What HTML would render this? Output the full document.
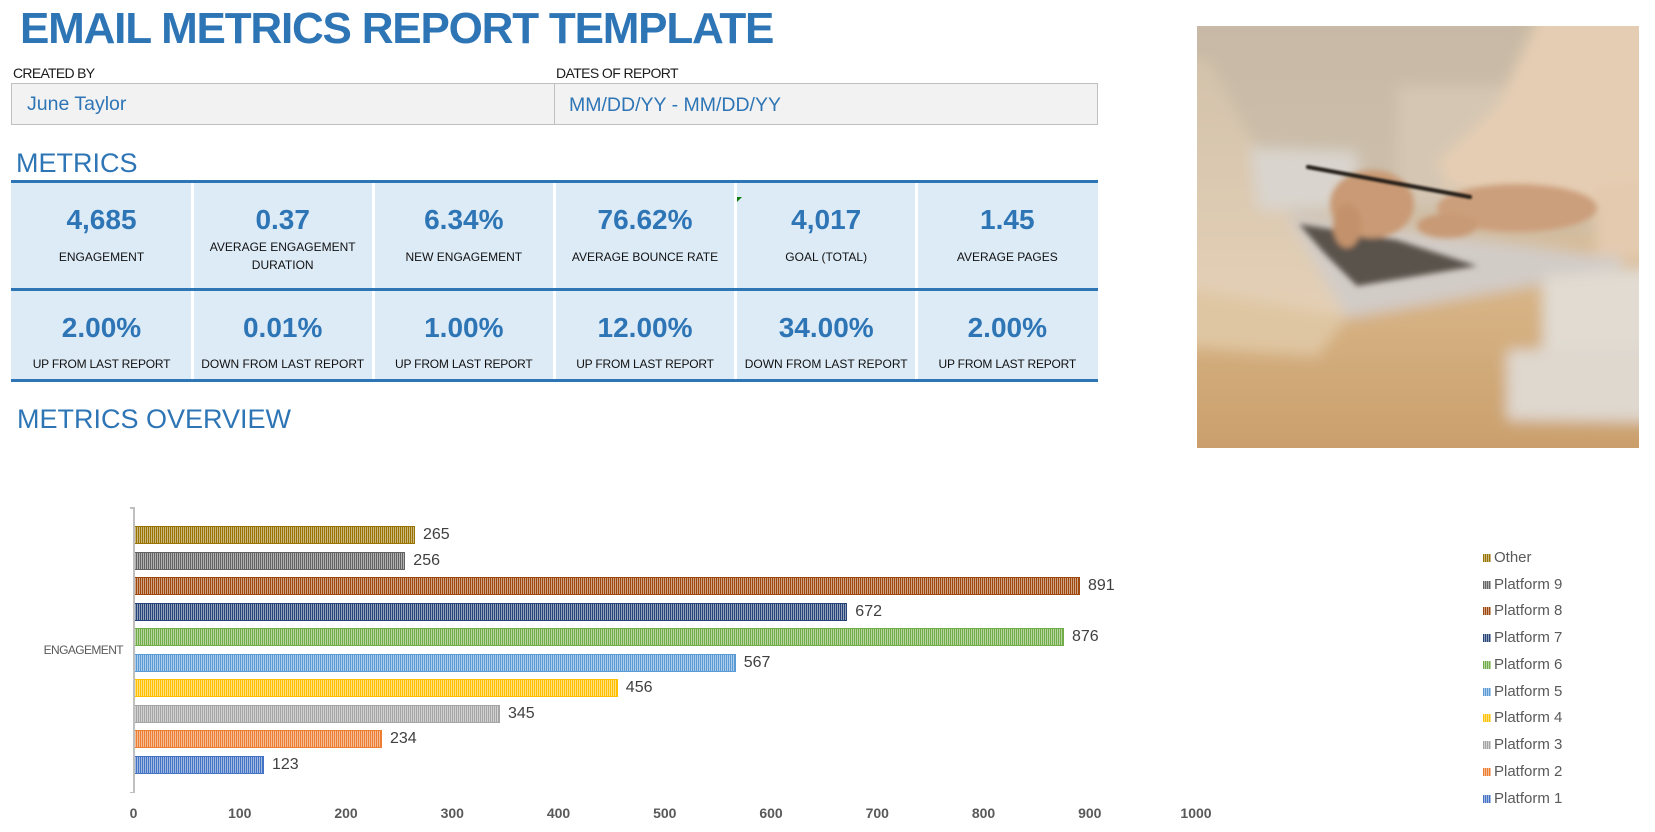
<!DOCTYPE html>
<html>
<head>
<meta charset="utf-8">
<style>
  html,body{margin:0;padding:0;background:#fff;}
  body{width:1655px;height:832px;position:relative;overflow:hidden;font-family:"Liberation Sans",Arial,sans-serif;}
  .a{position:absolute;white-space:nowrap;}
  .val{position:absolute;width:181px;text-align:center;font-weight:bold;font-size:28px;line-height:32px;color:#2E75B6;white-space:nowrap;}
  .lab{position:absolute;width:181px;text-align:center;font-size:12px;line-height:16px;color:#111;white-space:nowrap;}
  .bar{position:absolute;height:18px;box-sizing:border-box;}
  .vl{position:absolute;font-size:16px;line-height:18px;color:#404040;white-space:nowrap;}
  .tk{position:absolute;width:60px;text-align:center;font-weight:bold;font-size:14px;line-height:16px;color:#595959;}
  .lg{position:absolute;left:1494px;font-size:15px;line-height:18px;color:#595959;white-space:nowrap;}
  .mk{position:absolute;left:1483px;width:8px;height:8px;}
</style>
</head>
<body>

<!-- Title -->
<div class="a" style="left:20px;top:7px;font-weight:bold;font-size:44px;line-height:44px;color:#2E75B6;letter-spacing:-1.2px;">EMAIL METRICS REPORT TEMPLATE</div>

<div class="a" style="left:13px;top:65px;font-size:14px;line-height:16px;color:#1a1a1a;letter-spacing:-0.7px;">CREATED BY</div>
<div class="a" style="left:556px;top:65px;font-size:14px;line-height:16px;color:#1a1a1a;letter-spacing:-0.6px;">DATES OF REPORT</div>

<div class="a" style="left:11px;top:83px;width:1085px;height:40px;border:1px solid #BFBFBF;background:#F2F2F2;"></div>
<div class="a" style="left:554px;top:83px;width:1px;height:42px;background:#BFBFBF;"></div>
<div class="a" style="left:27px;top:92px;font-size:19.5px;line-height:24px;color:#2E75B6;">June Taylor</div>
<div class="a" style="left:569px;top:92.5px;font-size:19.5px;line-height:24px;color:#2E75B6;">MM/DD/YY - MM/DD/YY</div>

<div class="a" style="left:16px;top:147.5px;font-size:27px;line-height:30px;color:#2E75B6;">METRICS</div>

<!-- Metrics table -->
<div class="a" style="left:11px;top:183px;width:1087px;height:105px;background:#DDEBF7;"></div>
<div class="a" style="left:11px;top:291px;width:1087px;height:88px;background:#DDEBF7;"></div>
<div class="a" style="left:190.7px;top:183px;width:3px;height:105px;background:#fff;"></div>
<div class="a" style="left:371.8px;top:183px;width:3px;height:105px;background:#fff;"></div>
<div class="a" style="left:553px;top:183px;width:3px;height:105px;background:#fff;"></div>
<div class="a" style="left:734.2px;top:183px;width:3px;height:105px;background:#fff;"></div>
<div class="a" style="left:915.3px;top:183px;width:3px;height:105px;background:#fff;"></div>
<div class="a" style="left:190.7px;top:291px;width:3px;height:88px;background:#fff;"></div>
<div class="a" style="left:371.8px;top:291px;width:3px;height:88px;background:#fff;"></div>
<div class="a" style="left:553px;top:291px;width:3px;height:88px;background:#fff;"></div>
<div class="a" style="left:734.2px;top:291px;width:3px;height:88px;background:#fff;"></div>
<div class="a" style="left:915.3px;top:291px;width:3px;height:88px;background:#fff;"></div>
<div class="a" style="left:11px;top:180px;width:1087px;height:3px;background:#2E75B6;"></div>
<div class="a" style="left:11px;top:288px;width:1087px;height:3px;background:#2E75B6;"></div>
<div class="a" style="left:11px;top:379px;width:1087px;height:3px;background:#2E75B6;"></div>
<svg class="a" style="left:737px;top:197px;" width="6" height="6"><polygon points="0,0 5,0 0,5" fill="#107C10"/></svg>

<!-- row 1 -->
<div class="val" style="left:11px;top:204px;">4,685</div>
<div class="val" style="left:192.2px;top:204px;">0.37</div>
<div class="val" style="left:373.3px;top:204px;">6.34%</div>
<div class="val" style="left:554.5px;top:204px;">76.62%</div>
<div class="val" style="left:735.7px;top:204px;">4,017</div>
<div class="val" style="left:916.8px;top:204px;">1.45</div>

<div class="lab" style="left:11px;top:248.7px;">ENGAGEMENT</div>
<div class="lab" style="left:192.2px;top:239px;line-height:17.7px;">AVERAGE ENGAGEMENT<br>DURATION</div>
<div class="lab" style="left:373.3px;top:248.7px;">NEW ENGAGEMENT</div>
<div class="lab" style="left:554.5px;top:248.7px;">AVERAGE BOUNCE RATE</div>
<div class="lab" style="left:735.7px;top:248.7px;">GOAL (TOTAL)</div>
<div class="lab" style="left:916.8px;top:248.7px;">AVERAGE PAGES</div>

<!-- row 2 -->
<div class="val" style="left:11px;top:311.5px;">2.00%</div>
<div class="val" style="left:192.2px;top:311.5px;">0.01%</div>
<div class="val" style="left:373.3px;top:311.5px;">1.00%</div>
<div class="val" style="left:554.5px;top:311.5px;">12.00%</div>
<div class="val" style="left:735.7px;top:311.5px;">34.00%</div>
<div class="val" style="left:916.8px;top:311.5px;">2.00%</div>

<div class="lab" style="left:11px;top:356.3px;letter-spacing:-0.2px;">UP FROM LAST REPORT</div>
<div class="lab" style="left:192.2px;top:356.3px;">DOWN FROM LAST REPORT</div>
<div class="lab" style="left:373.3px;top:356.3px;letter-spacing:-0.2px;">UP FROM LAST REPORT</div>
<div class="lab" style="left:554.5px;top:356.3px;letter-spacing:-0.2px;">UP FROM LAST REPORT</div>
<div class="lab" style="left:735.7px;top:356.3px;">DOWN FROM LAST REPORT</div>
<div class="lab" style="left:916.8px;top:356.3px;letter-spacing:-0.2px;">UP FROM LAST REPORT</div>

<div class="a" style="left:17px;top:404.3px;font-size:27px;line-height:30px;color:#2E75B6;">METRICS OVERVIEW</div>

<!-- Photo -->
<svg class="a" style="left:1197px;top:26px;" width="442" height="422" viewBox="0 0 442 422">
  <defs>
    <linearGradient id="bg" x1="0" y1="0" x2="0" y2="1">
      <stop offset="0" stop-color="#c7b9a5"/>
      <stop offset="0.4" stop-color="#ccbeaa"/>
      <stop offset="0.58" stop-color="#d7bb96"/>
      <stop offset="1" stop-color="#cda26f"/>
    </linearGradient>
    <linearGradient id="tb" x1="0" y1="0" x2="0" y2="1">
      <stop offset="0" stop-color="#dbba8e"/>
      <stop offset="1" stop-color="#c99d69"/>
    </linearGradient>
    <linearGradient id="lid" x1="0" y1="0" x2="0" y2="1">
      <stop offset="0" stop-color="#d3c2ab"/>
      <stop offset="1" stop-color="#e4d0b6"/>
    </linearGradient>
    <filter id="bl" x="-20%" y="-20%" width="140%" height="140%"><feGaussianBlur stdDeviation="7"/></filter>
    <filter id="bl2" x="-20%" y="-20%" width="140%" height="140%"><feGaussianBlur stdDeviation="3"/></filter>
    <filter id="bl3" x="-20%" y="-20%" width="140%" height="140%"><feGaussianBlur stdDeviation="1"/></filter>
    <clipPath id="cp"><rect width="442" height="422"/></clipPath>
  </defs>
  <g clip-path="url(#cp)">
    <rect width="442" height="422" fill="url(#bg)"/>
    <g filter="url(#bl)">
      <rect x="200" y="60" width="242" height="120" fill="#d4c6b3"/>
      <polygon points="-20,228 442,218 462,440 -20,440" fill="url(#tb)"/>
      <polygon points="-20,235 150,292 120,330 -20,320" fill="#dfc6a2"/>
      <polygon points="346,-20 462,-20 462,175 400,182 330,174 250,160 240,135 300,80" fill="#e5cdb3"/>
      <polygon points="395,160 462,150 462,232 400,236" fill="#e4caaf"/>
      <polygon points="-20,30 12,34 80,160 150,290 -20,262" fill="url(#lid)"/>
      <polygon points="53,121 160,125 165,184 60,184" fill="#d9d4cd"/>
      <polygon points="90,188 426,232 426,244 150,292" fill="#d2ccc7"/>
      <polygon points="346,251 462,240 462,330 346,330" fill="#e1dbd2"/>
      <polygon points="310,324 462,320 462,396 310,394" fill="#dfd8cf"/>
    </g>
    <g filter="url(#bl2)">
      <polygon points="102,198 200,214 280,240 160,260 128,228" fill="#5a524b"/>
      <ellipse cx="175" cy="178" rx="42" ry="34" fill="#c99a75"/>
      <ellipse cx="150" cy="200" rx="14" ry="22" fill="#c3926c"/>
      <ellipse cx="320" cy="182" rx="80" ry="24" fill="#cc9f7c"/>
      <ellipse cx="250" cy="200" rx="30" ry="12" fill="#c89a76"/>
    </g>
    <g filter="url(#bl3)">
      <line x1="111" y1="141" x2="273" y2="171" stroke="#211c19" stroke-width="4" stroke-linecap="round"/>
    </g>
  </g>
</svg>

<!-- Chart -->
<div class="a" style="left:0px;top:642px;width:123px;text-align:right;font-size:12px;line-height:16px;color:#595959;letter-spacing:-0.6px;">ENGAGEMENT</div>

<div class="bar" style="left:133.3px;top:526px;width:281.6px;border:1px solid #997300;background:repeating-linear-gradient(90deg,#997300 0 1px,#ccb980 1px 2px);"></div>
<div class="bar" style="left:133.3px;top:551.5px;width:272px;border:1px solid #636363;background:repeating-linear-gradient(90deg,#636363 0 1px,#b1b1b1 1px 2px);"></div>
<div class="bar" style="left:133.3px;top:577px;width:946.7px;border:1px solid #9E480E;background:repeating-linear-gradient(90deg,#9E480E 0 1px,#cfa487 1px 2px);"></div>
<div class="bar" style="left:133.3px;top:602.5px;width:714px;border:1px solid #264478;background:repeating-linear-gradient(90deg,#264478 0 1px,#93a2bc 1px 2px);"></div>
<div class="bar" style="left:133.3px;top:628px;width:930.8px;border:1px solid #70AD47;background:repeating-linear-gradient(90deg,#70AD47 0 1px,#b8d6a3 1px 2px);"></div>
<div class="bar" style="left:133.3px;top:653.5px;width:602.4px;border:1px solid #5B9BD5;background:repeating-linear-gradient(90deg,#5B9BD5 0 1px,#adcdea 1px 2px);"></div>
<div class="bar" style="left:133.3px;top:679px;width:484.5px;border:1px solid #FFC000;background:repeating-linear-gradient(90deg,#FFC000 0 1px,#ffe080 1px 2px);"></div>
<div class="bar" style="left:133.3px;top:704.5px;width:366.6px;border:1px solid #A5A5A5;background:repeating-linear-gradient(90deg,#A5A5A5 0 1px,#d2d2d2 1px 2px);"></div>
<div class="bar" style="left:133.3px;top:730px;width:248.6px;border:1px solid #ED7D31;background:repeating-linear-gradient(90deg,#ED7D31 0 1px,#f6be98 1px 2px);"></div>
<div class="bar" style="left:133.3px;top:755.5px;width:130.7px;border:1px solid #4472C4;background:repeating-linear-gradient(90deg,#4472C4 0 1px,#a2b9e2 1px 2px);"></div>

<!-- axis -->
<div class="a" style="left:133px;top:507px;width:2px;height:286px;background:#BFBFBF;"></div>
<div class="a" style="left:129.5px;top:507px;width:5px;height:1.5px;background:#BFBFBF;"></div>
<div class="a" style="left:129.5px;top:791.5px;width:5px;height:1.5px;background:#BFBFBF;"></div>

<!-- value labels -->
<div class="vl" style="left:423px;top:526px;">265</div>
<div class="vl" style="left:413.3px;top:551.5px;">256</div>
<div class="vl" style="left:1088px;top:577px;">891</div>
<div class="vl" style="left:855.3px;top:602.5px;">672</div>
<div class="vl" style="left:1072px;top:628px;">876</div>
<div class="vl" style="left:743.7px;top:653.5px;">567</div>
<div class="vl" style="left:625.8px;top:679px;">456</div>
<div class="vl" style="left:508px;top:704.5px;">345</div>
<div class="vl" style="left:390px;top:730px;">234</div>
<div class="vl" style="left:272px;top:755.5px;">123</div>

<!-- tick labels -->
<div class="tk" style="left:103.5px;top:805.3px;">0</div>
<div class="tk" style="left:209.8px;top:805.3px;">100</div>
<div class="tk" style="left:316px;top:805.3px;">200</div>
<div class="tk" style="left:422.3px;top:805.3px;">300</div>
<div class="tk" style="left:528.5px;top:805.3px;">400</div>
<div class="tk" style="left:634.8px;top:805.3px;">500</div>
<div class="tk" style="left:741px;top:805.3px;">600</div>
<div class="tk" style="left:847.3px;top:805.3px;">700</div>
<div class="tk" style="left:953.5px;top:805.3px;">800</div>
<div class="tk" style="left:1059.8px;top:805.3px;">900</div>
<div class="tk" style="left:1166px;top:805.3px;">1000</div>

<!-- legend -->
<div class="mk" style="top:553.7px;background:repeating-linear-gradient(90deg,#997300 0 1px,#ccb980 1px 2px);"></div>
<div class="lg" style="top:548.7px;">Other</div>
<div class="mk" style="top:580.5px;background:repeating-linear-gradient(90deg,#636363 0 1px,#b1b1b1 1px 2px);"></div>
<div class="lg" style="top:575.5px;">Platform 9</div>
<div class="mk" style="top:607.3px;background:repeating-linear-gradient(90deg,#9E480E 0 1px,#cfa487 1px 2px);"></div>
<div class="lg" style="top:602.3px;">Platform 8</div>
<div class="mk" style="top:634px;background:repeating-linear-gradient(90deg,#264478 0 1px,#93a2bc 1px 2px);"></div>
<div class="lg" style="top:629px;">Platform 7</div>
<div class="mk" style="top:660.8px;background:repeating-linear-gradient(90deg,#70AD47 0 1px,#b8d6a3 1px 2px);"></div>
<div class="lg" style="top:655.8px;">Platform 6</div>
<div class="mk" style="top:687.6px;background:repeating-linear-gradient(90deg,#5B9BD5 0 1px,#adcdea 1px 2px);"></div>
<div class="lg" style="top:682.6px;">Platform 5</div>
<div class="mk" style="top:714.4px;background:repeating-linear-gradient(90deg,#FFC000 0 1px,#ffe080 1px 2px);"></div>
<div class="lg" style="top:709.4px;">Platform 4</div>
<div class="mk" style="top:741.2px;background:repeating-linear-gradient(90deg,#A5A5A5 0 1px,#d2d2d2 1px 2px);"></div>
<div class="lg" style="top:736.2px;">Platform 3</div>
<div class="mk" style="top:767.9px;background:repeating-linear-gradient(90deg,#ED7D31 0 1px,#f6be98 1px 2px);"></div>
<div class="lg" style="top:762.9px;">Platform 2</div>
<div class="mk" style="top:794.7px;background:repeating-linear-gradient(90deg,#4472C4 0 1px,#a2b9e2 1px 2px);"></div>
<div class="lg" style="top:789.7px;">Platform 1</div>

</body>
</html>
